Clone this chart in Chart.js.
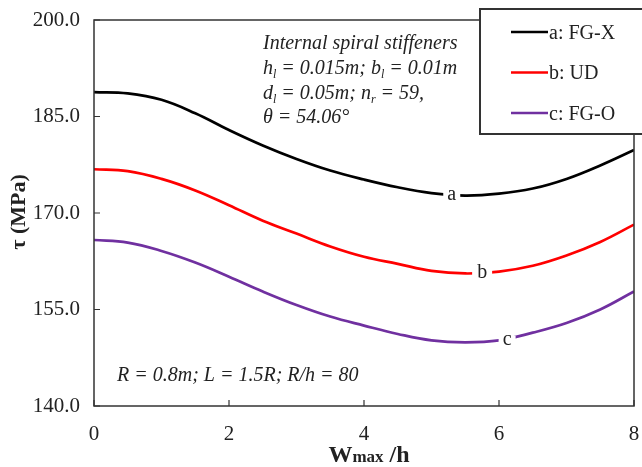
<!DOCTYPE html>
<html>
<head>
<meta charset="utf-8">
<script src="https://cdn.jsdelivr.net/npm/chart.js@4"></script>
<style>
  html, body { margin: 0; padding: 0; background: #fff; }
  #wrap { width: 642px; height: 467px; }
</style>
</head>
<body>
<div id="wrap"><canvas id="tauChart" width="642" height="467"></canvas></div>
<script>
// values (tau in MPa vs Wmax/h)
const wOverH = [0, 0.5, 1, 1.5, 2, 2.5, 3, 3.5, 4, 4.5, 5, 5.5, 6, 6.5, 7, 7.5, 8];
const tauFGX = [188.8, 188.6, 187.6, 185.5, 182.9, 180.5, 178.4, 176.6, 175.2, 174.0, 173.1, 172.7, 173.0, 173.8, 175.3, 177.4, 179.8];
const tauUD  = [176.8, 176.5, 175.3, 173.5, 171.2, 168.8, 166.8, 164.8, 163.2, 162.1, 161.0, 160.6, 160.9, 161.8, 163.4, 165.5, 168.2];
const tauFGO = [165.8, 165.4, 164.1, 162.3, 160.1, 157.8, 155.7, 153.9, 152.5, 151.2, 150.2, 149.9, 150.2, 151.4, 152.9, 155.0, 157.8];

const seriesNames = ["a: FG-X", "b: UD", "c: FG-O"];
const seriesColors = ["#000000", "#ff0000", "#7030a0"];

// small letters sitting on each curve
const curveTags = ["a", "b", "c"];
const curveTagX = [5.3, 5.75, 6.12];
const curveTagY = [172.8, 160.7, 150.3];

const yTicks = [140, 155, 170, 185, 200];
const xTicks = [0, 2, 4, 6, 8];

const serif = "'Liberation Serif', 'DejaVu Serif', serif";
const ink = "#222";

function toPoints(ys) {
    return wOverH.map((x, i) => ({ x: x, y: ys[i] }));
}

// draw text made of runs, some of them subscripts
function drawRuns(ctx, x, y, runs, size) {
    let cx = x;
    runs.forEach(r => {
        const sub = r[1];
        ctx.font = "italic " + (sub ? Math.round(size * 0.62) : size) + "px " + serif;
        ctx.fillText(r[0], cx, sub ? y + size * 0.22 : y);
        cx += ctx.measureText(r[0]).width;
    });
}

const decor = {
    id: "decor",
    afterDatasetsDraw(chart) {
        const { ctx, scales: { x, y } } = chart;
        ctx.save();
        ctx.font = "20px " + serif;
        ctx.textAlign = "center";
        ctx.textBaseline = "alphabetic";
        curveTags.forEach((t, i) => {
            const px = x.getPixelForValue(curveTagX[i]);
            const py = y.getPixelForValue(curveTagY[i]);
            ctx.fillStyle = "#fff";
            const w = t === "b" ? 20 : 17;
            ctx.fillRect(px - w / 2, py - 4, w, 8);
            ctx.fillStyle = ink;
            ctx.fillText(t, px, py + 5);
        });
        ctx.restore();
    },
    afterDraw(chart) {
        const { ctx, chartArea: a, scales: { x, y } } = chart;
        ctx.save();

        // frame
        ctx.strokeStyle = "#333";
        ctx.lineWidth = 1.5;
        ctx.strokeRect(a.left, a.top, a.right - a.left, a.bottom - a.top);

        // inward ticks
        ctx.beginPath();
        yTicks.forEach(v => {
            const py = y.getPixelForValue(v);
            ctx.moveTo(a.left, py);
            ctx.lineTo(a.left + 6, py);
        });
        xTicks.forEach(v => {
            const px = x.getPixelForValue(v);
            ctx.moveTo(px, a.bottom);
            ctx.lineTo(px, a.bottom - 6);
        });
        ctx.lineWidth = 1.2;
        ctx.stroke();

        // legend box
        ctx.fillStyle = "#fff";
        ctx.fillRect(480, 9, 170, 125);
        ctx.strokeStyle = "#333";
        ctx.lineWidth = 2;
        ctx.strokeRect(480, 9, 170, 125);
        ctx.font = "20px " + serif;
        ctx.textAlign = "left";
        ctx.textBaseline = "alphabetic";
        seriesNames.forEach((name, i) => {
            const ly = 32 + i * 40.5;
            ctx.strokeStyle = seriesColors[i];
            ctx.lineWidth = 2.5;
            ctx.beginPath();
            ctx.moveTo(511, ly);
            ctx.lineTo(548, ly);
            ctx.stroke();
            ctx.fillStyle = ink;
            ctx.fillText(name, 549, ly + 6.5);
        });

        // notes inside the plot
        ctx.fillStyle = ink;
        drawRuns(ctx, 263, 49, [["Internal spiral stiffeners"]], 20);
        drawRuns(ctx, 263, 74, [["h"], ["l", 1], [" = 0.015m; b"], ["l", 1], [" = 0.01m"]], 20);
        drawRuns(ctx, 263, 99, [["d"], ["l", 1], [" = 0.05m; n"], ["r", 1], [" = 59,"]], 20);
        drawRuns(ctx, 263, 123, [["\u03b8 = 54.06\u00b0"]], 20);
        drawRuns(ctx, 117, 381, [["R = 0.8m; L = 1.5R; R/h = 80"]], 20);

        // y title
        ctx.save();
        ctx.translate(19, 212);
        ctx.rotate(-Math.PI / 2);
        ctx.font = "bold 22px " + serif;
        ctx.textAlign = "center";
        ctx.textBaseline = "middle";
        ctx.fillText("\u03c4 (MPa)", 0, 0);
        ctx.restore();

        // x title: W with a smaller "max"
        const parts = [["W", 24], ["max", 17], [" /h", 24]];
        let total = 0;
        parts.forEach(p => { ctx.font = "bold " + p[1] + "px " + serif; total += ctx.measureText(p[0]).width; });
        let cx = (a.left + a.right) / 2 + 5 - total / 2;
        ctx.textAlign = "left";
        parts.forEach(p => {
            ctx.font = "bold " + p[1] + "px " + serif;
            ctx.fillText(p[0], cx, 462);
            cx += ctx.measureText(p[0]).width;
        });

        ctx.restore();
    }
};

new Chart(document.getElementById("tauChart"), {
    type: "line",
    data: {
        datasets: [tauFGX, tauUD, tauFGO].map((ys, i) => ({
            label: seriesNames[i],
            data: toPoints(ys),
            borderColor: seriesColors[i],
            borderWidth: 2.7,
            pointRadius: 0,
            fill: false,
            tension: 0.4
        }))
    },
    options: {
        responsive: false,
        animation: false,
        layout: { autoPadding: false, padding: { top: 20, right: 8, left: 0, bottom: 0 } },
        plugins: { legend: { display: false }, tooltip: { enabled: false } },
        scales: {
            x: {
                type: "linear",
                min: 0, max: 8,
                afterBuildTicks: s => { s.ticks = xTicks.map(v => ({ value: v })); },
                grid: { display: false, drawTicks: false },
                border: { display: false },
                ticks: { color: ink, padding: 16, font: { family: serif, size: 21 }, maxRotation: 0 },
                afterFit: s => {
                    s.height = 61;
                    s.paddingLeft = 0; s.paddingRight = 0;
                }
            },
            y: {
                min: 140, max: 200,
                afterBuildTicks: s => { s.ticks = yTicks.map(v => ({ value: v })); },
                grid: { display: false, drawTicks: false },
                border: { display: false },
                ticks: { color: ink, padding: 14, font: { family: serif, size: 21 }, callback: v => v.toFixed(1) },
                afterFit: s => {
                    s.width = 94;
                    s.paddingTop = 0; s.paddingBottom = 0;
                }
            }
        }
    },
    plugins: [decor]
});
</script>
</body>
</html>
